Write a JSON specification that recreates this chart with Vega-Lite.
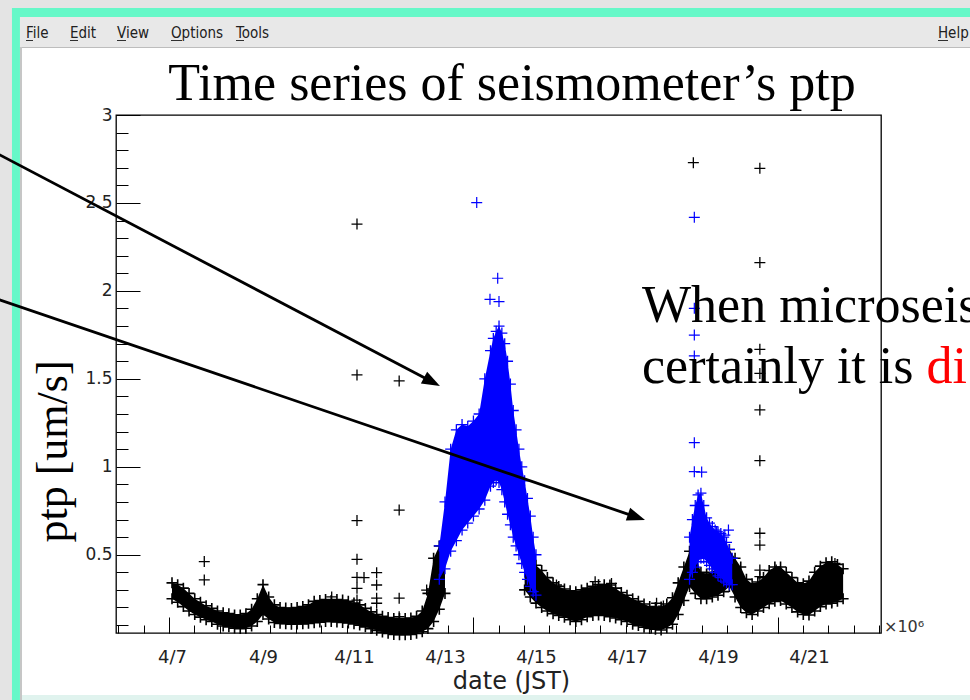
{
  "$schema": "https://vega.github.io/schema/vega-lite/v6.json",
  "width": 765,
  "height": 518,
  "autosize": {"type": "none"},
  "padding": {"left": 116, "top": 115, "right": 89, "bottom": 67},
  "background": "#ffffff",
  "config": {
    "view": {"stroke": "#000000", "strokeWidth": 1.3},
    "axis": {"grid": false, "domain": false, "tickColor": "#000000", "tickWidth": 1, "labelFont": "DejaVu Sans", "labelColor": "#222222", "labelFlush": false, "labelOverlap": false}
  },
  "datasets": {
    "chrome": [
      {"part": "gray", "x1": "2014-04-03T00:00", "x2": "2014-04-25T00:00", "y1": 3.6083, "y2": 3.75},
      {"part": "gray", "x1": "2014-04-03T00:00", "x2": "2014-04-03T11:36", "y1": -0.4, "y2": 3.75},
      {"part": "green", "x1": "2014-04-03T11:36", "x2": "2014-04-25T00:00", "y1": 3.5571, "y2": 3.6083},
      {"part": "green", "x1": "2014-04-03T11:36", "x2": "2014-04-03T15:49", "y1": -0.4, "y2": 3.6083},
      {"part": "menu", "x1": "2014-04-03T15:49", "x2": "2014-04-25T00:00", "y1": 3.3866, "y2": 3.5571},
      {"part": "line", "x1": "2014-04-03T15:49", "x2": "2014-04-25T00:00", "y1": 3.3809, "y2": 3.3866},
      {"part": "edge", "x1": "2014-04-03T15:49", "x2": "2014-04-03T16:53", "y1": -0.4, "y2": 3.3866},
      {"part": "mint", "x1": "2014-04-03T16:53", "x2": "2014-04-25T00:00", "y1": -0.4, "y2": -0.2973},
      {"part": "ul", "x1": "2014-04-03T18:59", "x2": "2014-04-03T22:41", "y1": 3.4207, "y2": 3.4264},
      {"part": "ul", "x1": "2014-04-04T18:12", "x2": "2014-04-04T22:25", "y1": 3.4207, "y2": 3.4264},
      {"part": "ul", "x1": "2014-04-05T18:59", "x2": "2014-04-05T23:44", "y1": 3.4207, "y2": 3.4264},
      {"part": "ul", "x1": "2014-04-06T23:28", "x2": "2014-04-07T05:16", "y1": 3.4207, "y2": 3.4264},
      {"part": "ul", "x1": "2014-04-08T09:46", "x2": "2014-04-08T13:59", "y1": 3.4207, "y2": 3.4264},
      {"part": "ul", "x1": "2014-04-23T20:02", "x2": "2014-04-24T01:19", "y1": 3.4207, "y2": 3.4264}
    ],
    "menu": [
      {"label": "File", "t": "2014-04-03T18:59", "v": 3.4662},
      {"label": "Edit", "t": "2014-04-04T18:12", "v": 3.4662},
      {"label": "View", "t": "2014-04-05T18:59", "v": 3.4662},
      {"label": "Options", "t": "2014-04-06T23:28", "v": 3.4662},
      {"label": "Tools", "t": "2014-04-08T09:46", "v": 3.4662},
      {"label": "Help", "t": "2014-04-23T20:02", "v": 3.4662}
    ],
    "bands": [
      {"t": "2014-04-07T00:00", "lo": 0.25, "hi": 0.34, "cls": "other", "seg": "a"},
      {"t": "2014-04-07T03:00", "lo": 0.23, "hi": 0.33, "cls": "other", "seg": "a"},
      {"t": "2014-04-07T06:00", "lo": 0.205, "hi": 0.31, "cls": "other", "seg": "a"},
      {"t": "2014-04-07T09:00", "lo": 0.18, "hi": 0.28, "cls": "other", "seg": "a"},
      {"t": "2014-04-07T12:00", "lo": 0.16, "hi": 0.25, "cls": "other", "seg": "a"},
      {"t": "2014-04-07T15:00", "lo": 0.145, "hi": 0.23, "cls": "other", "seg": "a"},
      {"t": "2014-04-07T18:00", "lo": 0.13, "hi": 0.21, "cls": "other", "seg": "a"},
      {"t": "2014-04-07T21:00", "lo": 0.12, "hi": 0.195, "cls": "other", "seg": "a"},
      {"t": "2014-04-08T00:00", "lo": 0.105, "hi": 0.18, "cls": "other", "seg": "a"},
      {"t": "2014-04-08T03:00", "lo": 0.095, "hi": 0.17, "cls": "other", "seg": "a"},
      {"t": "2014-04-08T06:00", "lo": 0.09, "hi": 0.165, "cls": "other", "seg": "a"},
      {"t": "2014-04-08T09:00", "lo": 0.083, "hi": 0.158, "cls": "other", "seg": "a"},
      {"t": "2014-04-08T12:00", "lo": 0.08, "hi": 0.157, "cls": "other", "seg": "a"},
      {"t": "2014-04-08T15:00", "lo": 0.082, "hi": 0.165, "cls": "other", "seg": "a"},
      {"t": "2014-04-08T18:00", "lo": 0.095, "hi": 0.19, "cls": "other", "seg": "a"},
      {"t": "2014-04-08T21:00", "lo": 0.12, "hi": 0.25, "cls": "other", "seg": "a"},
      {"t": "2014-04-09T00:00", "lo": 0.16, "hi": 0.33, "cls": "other", "seg": "a"},
      {"t": "2014-04-09T03:00", "lo": 0.135, "hi": 0.26, "cls": "other", "seg": "a"},
      {"t": "2014-04-09T06:00", "lo": 0.115, "hi": 0.215, "cls": "other", "seg": "a"},
      {"t": "2014-04-09T09:00", "lo": 0.11, "hi": 0.2, "cls": "other", "seg": "a"},
      {"t": "2014-04-09T12:00", "lo": 0.108, "hi": 0.197, "cls": "other", "seg": "a"},
      {"t": "2014-04-09T15:00", "lo": 0.105, "hi": 0.195, "cls": "other", "seg": "a"},
      {"t": "2014-04-09T18:00", "lo": 0.106, "hi": 0.2, "cls": "other", "seg": "a"},
      {"t": "2014-04-09T21:00", "lo": 0.107, "hi": 0.205, "cls": "other", "seg": "a"},
      {"t": "2014-04-10T00:00", "lo": 0.11, "hi": 0.215, "cls": "other", "seg": "a"},
      {"t": "2014-04-10T03:00", "lo": 0.113, "hi": 0.235, "cls": "other", "seg": "a"},
      {"t": "2014-04-10T06:00", "lo": 0.117, "hi": 0.24, "cls": "other", "seg": "a"},
      {"t": "2014-04-10T09:00", "lo": 0.12, "hi": 0.245, "cls": "other", "seg": "a"},
      {"t": "2014-04-10T12:00", "lo": 0.12, "hi": 0.24, "cls": "other", "seg": "a"},
      {"t": "2014-04-10T15:00", "lo": 0.118, "hi": 0.245, "cls": "other", "seg": "a"},
      {"t": "2014-04-10T18:00", "lo": 0.115, "hi": 0.242, "cls": "other", "seg": "a"},
      {"t": "2014-04-10T21:00", "lo": 0.112, "hi": 0.235, "cls": "other", "seg": "a"},
      {"t": "2014-04-11T00:00", "lo": 0.107, "hi": 0.225, "cls": "other", "seg": "a"},
      {"t": "2014-04-11T03:00", "lo": 0.1, "hi": 0.215, "cls": "other", "seg": "a"},
      {"t": "2014-04-11T06:00", "lo": 0.09, "hi": 0.195, "cls": "other", "seg": "a"},
      {"t": "2014-04-11T09:00", "lo": 0.08, "hi": 0.175, "cls": "other", "seg": "a"},
      {"t": "2014-04-11T12:00", "lo": 0.07, "hi": 0.16, "cls": "other", "seg": "a"},
      {"t": "2014-04-11T15:00", "lo": 0.06, "hi": 0.15, "cls": "other", "seg": "a"},
      {"t": "2014-04-11T18:00", "lo": 0.053, "hi": 0.143, "cls": "other", "seg": "a"},
      {"t": "2014-04-11T21:00", "lo": 0.047, "hi": 0.138, "cls": "other", "seg": "a"},
      {"t": "2014-04-12T00:00", "lo": 0.045, "hi": 0.137, "cls": "other", "seg": "a"},
      {"t": "2014-04-12T03:00", "lo": 0.045, "hi": 0.137, "cls": "other", "seg": "a"},
      {"t": "2014-04-12T06:00", "lo": 0.047, "hi": 0.14, "cls": "other", "seg": "a"},
      {"t": "2014-04-12T09:00", "lo": 0.053, "hi": 0.15, "cls": "other", "seg": "a"},
      {"t": "2014-04-12T12:00", "lo": 0.062, "hi": 0.18, "cls": "other", "seg": "a"},
      {"t": "2014-04-12T15:00", "lo": 0.08, "hi": 0.28, "cls": "other", "seg": "a"},
      {"t": "2014-04-12T18:00", "lo": 0.12, "hi": 0.48, "cls": "other", "seg": "a"},
      {"t": "2014-04-12T21:00", "lo": 0.19, "hi": 0.55, "cls": "other", "seg": "a"},
      {"t": "2014-04-13T00:00", "lo": 0.28, "hi": 0.55, "cls": "other", "seg": "a"},
      {"t": "2014-04-14T18:00", "lo": 0.3, "hi": 0.52, "cls": "other", "seg": "b"},
      {"t": "2014-04-14T21:00", "lo": 0.26, "hi": 0.48, "cls": "other", "seg": "b"},
      {"t": "2014-04-15T00:00", "lo": 0.225, "hi": 0.44, "cls": "other", "seg": "b"},
      {"t": "2014-04-15T03:00", "lo": 0.2, "hi": 0.41, "cls": "other", "seg": "b"},
      {"t": "2014-04-15T06:00", "lo": 0.18, "hi": 0.37, "cls": "other", "seg": "b"},
      {"t": "2014-04-15T09:00", "lo": 0.165, "hi": 0.34, "cls": "other", "seg": "b"},
      {"t": "2014-04-15T12:00", "lo": 0.155, "hi": 0.32, "cls": "other", "seg": "b"},
      {"t": "2014-04-15T15:00", "lo": 0.145, "hi": 0.305, "cls": "other", "seg": "b"},
      {"t": "2014-04-15T18:00", "lo": 0.13, "hi": 0.295, "cls": "other", "seg": "b"},
      {"t": "2014-04-15T21:00", "lo": 0.12, "hi": 0.29, "cls": "other", "seg": "b"},
      {"t": "2014-04-16T00:00", "lo": 0.13, "hi": 0.3, "cls": "other", "seg": "b"},
      {"t": "2014-04-16T03:00", "lo": 0.148, "hi": 0.31, "cls": "other", "seg": "b"},
      {"t": "2014-04-16T06:00", "lo": 0.155, "hi": 0.32, "cls": "other", "seg": "b"},
      {"t": "2014-04-16T09:00", "lo": 0.157, "hi": 0.33, "cls": "other", "seg": "b"},
      {"t": "2014-04-16T12:00", "lo": 0.155, "hi": 0.33, "cls": "other", "seg": "b"},
      {"t": "2014-04-16T15:00", "lo": 0.148, "hi": 0.328, "cls": "other", "seg": "b"},
      {"t": "2014-04-16T18:00", "lo": 0.14, "hi": 0.31, "cls": "other", "seg": "b"},
      {"t": "2014-04-16T21:00", "lo": 0.13, "hi": 0.285, "cls": "other", "seg": "b"},
      {"t": "2014-04-17T00:00", "lo": 0.12, "hi": 0.27, "cls": "other", "seg": "b"},
      {"t": "2014-04-17T03:00", "lo": 0.105, "hi": 0.25, "cls": "other", "seg": "b"},
      {"t": "2014-04-17T06:00", "lo": 0.097, "hi": 0.235, "cls": "other", "seg": "b"},
      {"t": "2014-04-17T09:00", "lo": 0.088, "hi": 0.22, "cls": "other", "seg": "b"},
      {"t": "2014-04-17T12:00", "lo": 0.081, "hi": 0.205, "cls": "other", "seg": "b"},
      {"t": "2014-04-17T15:00", "lo": 0.076, "hi": 0.2, "cls": "other", "seg": "b"},
      {"t": "2014-04-17T18:00", "lo": 0.072, "hi": 0.203, "cls": "other", "seg": "b"},
      {"t": "2014-04-17T21:00", "lo": 0.085, "hi": 0.22, "cls": "other", "seg": "b"},
      {"t": "2014-04-18T00:00", "lo": 0.105, "hi": 0.255, "cls": "other", "seg": "b"},
      {"t": "2014-04-18T03:00", "lo": 0.16, "hi": 0.34, "cls": "other", "seg": "b"},
      {"t": "2014-04-18T06:00", "lo": 0.24, "hi": 0.43, "cls": "other", "seg": "b"},
      {"t": "2014-04-18T09:00", "lo": 0.32, "hi": 0.52, "cls": "other", "seg": "b"},
      {"t": "2014-04-18T12:00", "lo": 0.28, "hi": 0.5, "cls": "other", "seg": "b"},
      {"t": "2014-04-18T15:00", "lo": 0.25, "hi": 0.4, "cls": "other", "seg": "b"},
      {"t": "2014-04-18T18:00", "lo": 0.25, "hi": 0.39, "cls": "other", "seg": "b"},
      {"t": "2014-04-18T21:00", "lo": 0.26, "hi": 0.4, "cls": "other", "seg": "b"},
      {"t": "2014-04-19T00:00", "lo": 0.27, "hi": 0.44, "cls": "other", "seg": "b"},
      {"t": "2014-04-19T03:00", "lo": 0.29, "hi": 0.5, "cls": "other", "seg": "b"},
      {"t": "2014-04-19T06:00", "lo": 0.32, "hi": 0.53, "cls": "other", "seg": "b"},
      {"t": "2014-04-19T09:00", "lo": 0.26, "hi": 0.48, "cls": "other", "seg": "b"},
      {"t": "2014-04-19T12:00", "lo": 0.2, "hi": 0.43, "cls": "other", "seg": "b"},
      {"t": "2014-04-19T15:00", "lo": 0.17, "hi": 0.36, "cls": "other", "seg": "b"},
      {"t": "2014-04-19T18:00", "lo": 0.16, "hi": 0.335, "cls": "other", "seg": "b"},
      {"t": "2014-04-19T21:00", "lo": 0.18, "hi": 0.345, "cls": "other", "seg": "b"},
      {"t": "2014-04-20T00:00", "lo": 0.2, "hi": 0.37, "cls": "other", "seg": "b"},
      {"t": "2014-04-20T03:00", "lo": 0.222, "hi": 0.41, "cls": "other", "seg": "b"},
      {"t": "2014-04-20T06:00", "lo": 0.235, "hi": 0.43, "cls": "other", "seg": "b"},
      {"t": "2014-04-20T09:00", "lo": 0.24, "hi": 0.43, "cls": "other", "seg": "b"},
      {"t": "2014-04-20T12:00", "lo": 0.22, "hi": 0.4, "cls": "other", "seg": "b"},
      {"t": "2014-04-20T15:00", "lo": 0.2, "hi": 0.37, "cls": "other", "seg": "b"},
      {"t": "2014-04-20T18:00", "lo": 0.175, "hi": 0.34, "cls": "other", "seg": "b"},
      {"t": "2014-04-20T21:00", "lo": 0.16, "hi": 0.335, "cls": "other", "seg": "b"},
      {"t": "2014-04-21T00:00", "lo": 0.157, "hi": 0.35, "cls": "other", "seg": "b"},
      {"t": "2014-04-21T03:00", "lo": 0.18, "hi": 0.4, "cls": "other", "seg": "b"},
      {"t": "2014-04-21T06:00", "lo": 0.205, "hi": 0.435, "cls": "other", "seg": "b"},
      {"t": "2014-04-21T09:00", "lo": 0.22, "hi": 0.455, "cls": "other", "seg": "b"},
      {"t": "2014-04-21T12:00", "lo": 0.225, "hi": 0.46, "cls": "other", "seg": "b"},
      {"t": "2014-04-21T15:00", "lo": 0.235, "hi": 0.445, "cls": "other", "seg": "b"},
      {"t": "2014-04-21T18:00", "lo": 0.25, "hi": 0.42, "cls": "other", "seg": "b"},
      {"t": "2014-04-12T21:00", "lo": 0.36, "hi": 0.55, "cls": "micro", "seg": "p1"},
      {"t": "2014-04-13T00:00", "lo": 0.42, "hi": 0.8, "cls": "micro", "seg": "p1"},
      {"t": "2014-04-13T03:00", "lo": 0.52, "hi": 1.1, "cls": "micro", "seg": "p1"},
      {"t": "2014-04-13T06:00", "lo": 0.58, "hi": 1.21, "cls": "micro", "seg": "p1"},
      {"t": "2014-04-13T09:00", "lo": 0.64, "hi": 1.24, "cls": "micro", "seg": "p1"},
      {"t": "2014-04-13T12:00", "lo": 0.68, "hi": 1.23, "cls": "micro", "seg": "p1"},
      {"t": "2014-04-13T15:00", "lo": 0.72, "hi": 1.26, "cls": "micro", "seg": "p1"},
      {"t": "2014-04-13T18:00", "lo": 0.76, "hi": 1.3, "cls": "micro", "seg": "p1"},
      {"t": "2014-04-13T21:00", "lo": 0.81, "hi": 1.5, "cls": "micro", "seg": "p1"},
      {"t": "2014-04-14T00:00", "lo": 0.89, "hi": 1.66, "cls": "micro", "seg": "p1"},
      {"t": "2014-04-14T01:30", "lo": 0.91, "hi": 1.73, "cls": "micro", "seg": "p1"},
      {"t": "2014-04-14T03:00", "lo": 0.925, "hi": 1.77, "cls": "micro", "seg": "p1"},
      {"t": "2014-04-14T04:30", "lo": 0.91, "hi": 1.8, "cls": "micro", "seg": "p1"},
      {"t": "2014-04-14T06:00", "lo": 0.87, "hi": 1.76, "cls": "micro", "seg": "p1"},
      {"t": "2014-04-14T07:30", "lo": 0.8, "hi": 1.7, "cls": "micro", "seg": "p1"},
      {"t": "2014-04-14T09:00", "lo": 0.73, "hi": 1.6, "cls": "micro", "seg": "p1"},
      {"t": "2014-04-14T10:30", "lo": 0.67, "hi": 1.47, "cls": "micro", "seg": "p1"},
      {"t": "2014-04-14T12:00", "lo": 0.6, "hi": 1.32, "cls": "micro", "seg": "p1"},
      {"t": "2014-04-14T13:30", "lo": 0.55, "hi": 1.21, "cls": "micro", "seg": "p1"},
      {"t": "2014-04-14T15:00", "lo": 0.5, "hi": 1.1, "cls": "micro", "seg": "p1"},
      {"t": "2014-04-14T16:30", "lo": 0.45, "hi": 1.0, "cls": "micro", "seg": "p1"},
      {"t": "2014-04-14T18:00", "lo": 0.4, "hi": 0.92, "cls": "micro", "seg": "p1"},
      {"t": "2014-04-14T19:30", "lo": 0.36, "hi": 0.82, "cls": "micro", "seg": "p1"},
      {"t": "2014-04-14T21:00", "lo": 0.32, "hi": 0.72, "cls": "micro", "seg": "p1"},
      {"t": "2014-04-14T22:30", "lo": 0.29, "hi": 0.6, "cls": "micro", "seg": "p1"},
      {"t": "2014-04-15T00:00", "lo": 0.27, "hi": 0.5, "cls": "micro", "seg": "p1"},
      {"t": "2014-04-18T09:00", "lo": 0.36, "hi": 0.6, "cls": "micro", "seg": "p2"},
      {"t": "2014-04-18T10:30", "lo": 0.4, "hi": 0.7, "cls": "micro", "seg": "p2"},
      {"t": "2014-04-18T12:00", "lo": 0.43, "hi": 0.78, "cls": "micro", "seg": "p2"},
      {"t": "2014-04-18T13:30", "lo": 0.46, "hi": 0.84, "cls": "micro", "seg": "p2"},
      {"t": "2014-04-18T15:00", "lo": 0.48, "hi": 0.85, "cls": "micro", "seg": "p2"},
      {"t": "2014-04-18T16:30", "lo": 0.48, "hi": 0.78, "cls": "micro", "seg": "p2"},
      {"t": "2014-04-18T18:00", "lo": 0.46, "hi": 0.71, "cls": "micro", "seg": "p2"},
      {"t": "2014-04-18T19:30", "lo": 0.44, "hi": 0.68, "cls": "micro", "seg": "p2"},
      {"t": "2014-04-18T21:00", "lo": 0.42, "hi": 0.66, "cls": "micro", "seg": "p2"},
      {"t": "2014-04-18T22:30", "lo": 0.4, "hi": 0.64, "cls": "micro", "seg": "p2"},
      {"t": "2014-04-19T00:00", "lo": 0.38, "hi": 0.63, "cls": "micro", "seg": "p2"},
      {"t": "2014-04-19T01:30", "lo": 0.37, "hi": 0.62, "cls": "micro", "seg": "p2"},
      {"t": "2014-04-19T03:00", "lo": 0.35, "hi": 0.6, "cls": "micro", "seg": "p2"},
      {"t": "2014-04-19T04:30", "lo": 0.34, "hi": 0.57, "cls": "micro", "seg": "p2"},
      {"t": "2014-04-19T06:00", "lo": 0.33, "hi": 0.53, "cls": "micro", "seg": "p2"},
      {"t": "2014-04-19T07:30", "lo": 0.33, "hi": 0.48, "cls": "micro", "seg": "p2"}
    ],
    "outliers": [
      {"t": "2014-04-07T17:02", "v": 0.461, "cls": "other"},
      {"t": "2014-04-07T17:02", "v": 0.357, "cls": "other"},
      {"t": "2014-04-10T12:14", "v": 0.26, "cls": "other"},
      {"t": "2014-04-11T01:35", "v": 2.38, "cls": "other"},
      {"t": "2014-04-11T01:35", "v": 1.522, "cls": "other"},
      {"t": "2014-04-11T01:35", "v": 0.694, "cls": "other"},
      {"t": "2014-04-11T01:35", "v": 0.474, "cls": "other"},
      {"t": "2014-04-11T01:35", "v": 0.371, "cls": "other"},
      {"t": "2014-04-11T01:35", "v": 0.309, "cls": "other"},
      {"t": "2014-04-11T01:35", "v": 0.242, "cls": "other"},
      {"t": "2014-04-11T05:17", "v": 0.37, "cls": "other"},
      {"t": "2014-04-11T11:57", "v": 0.398, "cls": "other"},
      {"t": "2014-04-11T11:57", "v": 0.328, "cls": "other"},
      {"t": "2014-04-11T11:57", "v": 0.253, "cls": "other"},
      {"t": "2014-04-11T11:57", "v": 0.224, "cls": "other"},
      {"t": "2014-04-11T23:50", "v": 1.488, "cls": "other"},
      {"t": "2014-04-11T23:50", "v": 0.754, "cls": "other"},
      {"t": "2014-04-11T23:50", "v": 0.253, "cls": "other"},
      {"t": "2014-04-11T23:50", "v": 0.148, "cls": "other"},
      {"t": "2014-04-12T14:20", "v": 0.299, "cls": "other"},
      {"t": "2014-04-15T10:48", "v": 0.328, "cls": "other"},
      {"t": "2014-04-16T07:12", "v": 0.347, "cls": "other"},
      {"t": "2014-04-16T15:50", "v": 0.337, "cls": "other"},
      {"t": "2014-04-17T15:36", "v": 0.224, "cls": "other"},
      {"t": "2014-04-17T19:12", "v": 0.208, "cls": "other"},
      {"t": "2014-04-18T11:00", "v": 2.729, "cls": "other"},
      {"t": "2014-04-19T22:05", "v": 2.697, "cls": "other"},
      {"t": "2014-04-19T22:05", "v": 2.161, "cls": "other"},
      {"t": "2014-04-19T22:05", "v": 1.668, "cls": "other"},
      {"t": "2014-04-19T22:05", "v": 1.531, "cls": "other"},
      {"t": "2014-04-19T22:05", "v": 1.323, "cls": "other"},
      {"t": "2014-04-19T22:05", "v": 1.035, "cls": "other"},
      {"t": "2014-04-19T22:05", "v": 0.622, "cls": "other"},
      {"t": "2014-04-19T22:05", "v": 0.555, "cls": "other"},
      {"t": "2014-04-19T22:05", "v": 0.413, "cls": "other"},
      {"t": "2014-04-19T22:05", "v": 0.375, "cls": "other"},
      {"t": "2014-04-20T06:43", "v": 0.413, "cls": "other"},
      {"t": "2014-04-21T12:00", "v": 0.233, "cls": "other"},
      {"t": "2014-04-21T13:41", "v": 0.45, "cls": "other"},
      {"t": "2014-04-13T16:44", "v": 2.502, "cls": "micro"},
      {"t": "2014-04-14T03:48", "v": 2.072, "cls": "micro"},
      {"t": "2014-04-13T23:44", "v": 1.952, "cls": "micro"},
      {"t": "2014-04-14T04:29", "v": 1.939, "cls": "micro"},
      {"t": "2014-04-18T11:31", "v": 2.418, "cls": "micro"},
      {"t": "2014-04-18T11:31", "v": 1.901, "cls": "micro"},
      {"t": "2014-04-18T11:31", "v": 1.749, "cls": "micro"},
      {"t": "2014-04-18T11:31", "v": 1.63, "cls": "micro"},
      {"t": "2014-04-18T11:31", "v": 1.137, "cls": "micro"},
      {"t": "2014-04-18T11:31", "v": 0.972, "cls": "micro"},
      {"t": "2014-04-18T15:23", "v": 0.97, "cls": "micro"},
      {"t": "2014-04-18T23:17", "v": 0.63, "cls": "micro"},
      {"t": "2014-04-19T03:36", "v": 0.612, "cls": "micro"},
      {"t": "2014-04-19T05:31", "v": 0.64, "cls": "micro"}
    ],
    "heading": [
      {"label": "Time series of seismometer’s ptp", "t": "2014-04-14T11:20", "v": 3.0853}
    ],
    "notes": [
      {"label": "When microseis", "t": "2014-04-17T07:55", "v": 1.8232, "tone": "plain"},
      {"label": "certainly it is", "t": "2014-04-17T07:55", "v": 1.4764, "tone": "plain"},
      {"label": "di", "t": "2014-04-23T14:00", "v": 1.4764, "tone": "highlight"}
    ],
    "exponent": [
      {"label": "×10⁶", "t": "2014-04-22T15:33", "v": 0.061}
    ],
    "arrows": [
      {"id": "a1", "t1": "2014-04-03T00:00", "v1": 2.8026, "t2": "2014-04-12T17:08", "v2": 1.483},
      {"id": "a2", "t1": "2014-04-03T00:00", "v1": 1.9676, "t2": "2014-04-17T05:01", "v2": 0.714}
    ],
    "heads": [
      {"id": "a1", "t": "2014-04-12T17:08", "v": 1.483},
      {"id": "a2", "t": "2014-04-17T05:01", "v": 0.714}
    ]
  },
  "resolve": {"axis": {"x": "independent", "y": "independent"}, "scale": {"color": "independent"}},
  "layer": [
    {
      "data": {"name": "chrome", "format": {"parse": {"x1": "date", "x2": "date"}}},
      "mark": {"type": "rect"},
      "encoding": {
        "x": {"field": "x1", "type": "temporal", "scale": {"domain": [{"year": 2014, "month": 4, "date": 5, "hours": 18, "minutes": 28}, {"year": 2014, "month": 4, "date": 22, "hours": 13, "minutes": 59}], "nice": false}, "axis": null},
        "x2": {"field": "x2"},
        "y": {"field": "y1", "type": "quantitative", "scale": {"domain": [0.055, 3.0], "nice": false, "zero": false}, "axis": null},
        "y2": {"field": "y2"},
        "color": {"field": "part", "type": "nominal", "scale": {"domain": ["gray", "green", "menu", "line", "edge", "mint", "ul"], "range": ["#e4e4e4", "#66f8c8", "#e8e8e8", "#bdbdbd", "#c6c6c6", "#e0f3ee", "#303030"]}, "legend": null}
      }
    },
    {
      "data": {"name": "menu", "format": {"parse": {"t": "date"}}},
      "mark": {"type": "text", "font": "DejaVu Sans Condensed, Liberation Sans Narrow, DejaVu Sans", "fontSize": 15, "align": "left", "baseline": "middle", "color": "#202020"},
      "encoding": {
        "x": {"field": "t", "type": "temporal", "scale": {"domain": [{"year": 2014, "month": 4, "date": 5, "hours": 18, "minutes": 28}, {"year": 2014, "month": 4, "date": 22, "hours": 13, "minutes": 59}], "nice": false}, "axis": null},
        "y": {"field": "v", "type": "quantitative", "scale": {"domain": [0.055, 3.0], "nice": false, "zero": false}, "axis": null},
        "text": {"field": "label"}
      }
    },
    {
      "data": {"name": "bands", "format": {"parse": {"t": "date"}}},
      "transform": [{"filter": "datum.cls === 'other'"}],
      "mark": {"type": "area", "opacity": 1, "interpolate": "linear"},
      "encoding": {
        "x": {"field": "t", "type": "temporal", "scale": {"domain": [{"year": 2014, "month": 4, "date": 5, "hours": 18, "minutes": 28}, {"year": 2014, "month": 4, "date": 22, "hours": 13, "minutes": 59}], "nice": false},
          "axis": {"orient": "bottom", "values": {"expr": "sequence(datetime(2014,3,7), datetime(2014,3,22), 172800000)"}, "format": "%-m/%-d", "formatType": "time", "ticks": false, "tickSize": 0, "labelPadding": 29, "labelBaseline": "alphabetic", "labelFontSize": 18, "labelFont": "DejaVu Sans", "labelColor": "#222222", "title": "date (JST)", "titleFont": "DejaVu Sans", "titleFontSize": 24, "titleFontWeight": "normal", "titleColor": "#222222", "titleX": 395, "titleY": 55, "titleAlign": "center", "titleBaseline": "alphabetic"}},
        "y": {"field": "lo", "type": "quantitative", "scale": {"domain": [0.055, 3.0], "nice": false, "zero": false},
          "axis": {"orient": "left", "values": [0.5, 1, 1.5, 2, 2.5, 3], "format": "~g", "tickSize": -24, "labelPadding": 28, "labelFontSize": 17, "labelFont": "DejaVu Sans", "labelColor": "#222222", "title": "ptp [um/s]", "titleFont": "Liberation Serif", "titleFontSize": 44, "titleFontWeight": "normal", "titleColor": "#000000", "titleAngle": 270, "titleX": -50, "titleY": 336, "titleAlign": "center", "titleBaseline": "alphabetic"}},
        "y2": {"field": "hi"},
        "detail": {"field": "seg"},
        "color": {"field": "cls", "type": "nominal", "scale": {"domain": ["other", "micro"], "range": ["#000000", "#0000ff"]}, "legend": null}
      }
    },
    {
      "data": {"name": "bands", "format": {"parse": {"t": "date"}}},
      "transform": [{"filter": "datum.cls === 'other'"}, {"fold": ["lo", "hi"], "as": ["edge", "val"]}],
      "mark": {"type": "point", "shape": "M-1,0H1M0,-1V1", "filled": false, "size": 121, "strokeWidth": 1.6, "opacity": 1},
      "encoding": {
        "x": {"field": "t", "type": "temporal", "scale": {"domain": [{"year": 2014, "month": 4, "date": 5, "hours": 18, "minutes": 28}, {"year": 2014, "month": 4, "date": 22, "hours": 13, "minutes": 59}], "nice": false}, "axis": null},
        "y": {"field": "val", "type": "quantitative", "scale": {"domain": [0.055, 3.0], "nice": false, "zero": false}, "axis": null},
        "color": {"field": "cls", "type": "nominal", "scale": {"domain": ["other", "micro"], "range": ["#000000", "#0000ff"]}, "legend": null}
      }
    },
    {
      "data": {"name": "outliers", "format": {"parse": {"t": "date"}}},
      "transform": [{"filter": "datum.cls === 'other'"}],
      "mark": {"type": "point", "shape": "M-1,0H1M0,-1V1", "filled": false, "size": 121, "strokeWidth": 1.3, "opacity": 1},
      "encoding": {
        "x": {"field": "t", "type": "temporal", "scale": {"domain": [{"year": 2014, "month": 4, "date": 5, "hours": 18, "minutes": 28}, {"year": 2014, "month": 4, "date": 22, "hours": 13, "minutes": 59}], "nice": false}, "axis": null},
        "y": {"field": "v", "type": "quantitative", "scale": {"domain": [0.055, 3.0], "nice": false, "zero": false}, "axis": null},
        "color": {"field": "cls", "type": "nominal", "scale": {"domain": ["other", "micro"], "range": ["#000000", "#0000ff"]}, "legend": null}
      }
    },
    {
      "data": {"name": "bands", "format": {"parse": {"t": "date"}}},
      "transform": [{"filter": "datum.cls === 'micro'"}],
      "mark": {"type": "area", "opacity": 1, "interpolate": "linear"},
      "encoding": {
        "x": {"field": "t", "type": "temporal", "scale": {"domain": [{"year": 2014, "month": 4, "date": 5, "hours": 18, "minutes": 28}, {"year": 2014, "month": 4, "date": 22, "hours": 13, "minutes": 59}], "nice": false},
          "axis": {"orient": "bottom", "values": {"expr": "sequence(datetime(2014,3,5,19,39), datetime(2014,3,22,14,0), 48168000)"}, "labels": false, "tickSize": -8, "title": null}},
        "y": {"field": "lo", "type": "quantitative", "scale": {"domain": [0.055, 3.0], "nice": false, "zero": false},
          "axis": {"orient": "left", "values": [0.1, 0.2, 0.3, 0.4, 0.6, 0.7, 0.8, 0.9, 1.1, 1.2, 1.3, 1.4, 1.6, 1.7, 1.8, 1.9, 2.1, 2.2, 2.3, 2.4, 2.6, 2.7, 2.8, 2.9], "labels": false, "tickSize": -12, "title": null}},
        "y2": {"field": "hi"},
        "detail": {"field": "seg"},
        "color": {"field": "cls", "type": "nominal", "scale": {"domain": ["other", "micro"], "range": ["#000000", "#0000ff"]}, "legend": null}
      }
    },
    {
      "data": {"name": "bands", "format": {"parse": {"t": "date"}}},
      "transform": [{"filter": "datum.cls === 'micro'"}, {"fold": ["lo", "hi"], "as": ["edge", "val"]}],
      "mark": {"type": "point", "shape": "M-1,0H1M0,-1V1", "filled": false, "size": 121, "strokeWidth": 1.3, "opacity": 1},
      "encoding": {
        "x": {"field": "t", "type": "temporal", "scale": {"domain": [{"year": 2014, "month": 4, "date": 5, "hours": 18, "minutes": 28}, {"year": 2014, "month": 4, "date": 22, "hours": 13, "minutes": 59}], "nice": false},
          "axis": {"orient": "bottom", "values": {"expr": "sequence(datetime(2014,3,6,22,25), datetime(2014,3,22,14,0), 578016000)"}, "labels": false, "tickSize": -16, "title": null}},
        "y": {"field": "val", "type": "quantitative", "scale": {"domain": [0.055, 3.0], "nice": false, "zero": false}, "axis": null},
        "color": {"field": "cls", "type": "nominal", "scale": {"domain": ["other", "micro"], "range": ["#000000", "#0000ff"]}, "legend": null}
      }
    },
    {
      "data": {"name": "outliers", "format": {"parse": {"t": "date"}}},
      "transform": [{"filter": "datum.cls === 'micro'"}],
      "mark": {"type": "point", "shape": "M-1,0H1M0,-1V1", "filled": false, "size": 121, "strokeWidth": 1.2, "opacity": 1},
      "encoding": {
        "x": {"field": "t", "type": "temporal", "scale": {"domain": [{"year": 2014, "month": 4, "date": 5, "hours": 18, "minutes": 28}, {"year": 2014, "month": 4, "date": 22, "hours": 13, "minutes": 59}], "nice": false}, "axis": null},
        "y": {"field": "v", "type": "quantitative", "scale": {"domain": [0.055, 3.0], "nice": false, "zero": false}, "axis": null},
        "color": {"field": "cls", "type": "nominal", "scale": {"domain": ["other", "micro"], "range": ["#000000", "#0000ff"]}, "legend": null}
      }
    },
    {
      "data": {"name": "heading", "format": {"parse": {"t": "date"}}},
      "mark": {"type": "text", "font": "Liberation Serif", "fontSize": 52, "align": "center", "baseline": "alphabetic", "color": "#000000"},
      "encoding": {
        "x": {"field": "t", "type": "temporal", "scale": {"domain": [{"year": 2014, "month": 4, "date": 5, "hours": 18, "minutes": 28}, {"year": 2014, "month": 4, "date": 22, "hours": 13, "minutes": 59}], "nice": false}, "axis": null},
        "y": {"field": "v", "type": "quantitative", "scale": {"domain": [0.055, 3.0], "nice": false, "zero": false}, "axis": null},
        "text": {"field": "label"}
      }
    },
    {
      "data": {"name": "notes", "format": {"parse": {"t": "date"}}},
      "mark": {"type": "text", "font": "Liberation Serif", "fontSize": 52, "align": "left", "baseline": "alphabetic"},
      "encoding": {
        "x": {"field": "t", "type": "temporal", "scale": {"domain": [{"year": 2014, "month": 4, "date": 5, "hours": 18, "minutes": 28}, {"year": 2014, "month": 4, "date": 22, "hours": 13, "minutes": 59}], "nice": false}, "axis": null},
        "y": {"field": "v", "type": "quantitative", "scale": {"domain": [0.055, 3.0], "nice": false, "zero": false}, "axis": null},
        "text": {"field": "label"},
        "color": {"field": "tone", "type": "nominal", "scale": {"domain": ["plain", "highlight"], "range": ["#000000", "#ff0000"]}, "legend": null}
      }
    },
    {
      "data": {"name": "exponent", "format": {"parse": {"t": "date"}}},
      "mark": {"type": "text", "font": "DejaVu Sans", "fontSize": 16, "align": "left", "baseline": "alphabetic", "color": "#333333"},
      "encoding": {
        "x": {"field": "t", "type": "temporal", "scale": {"domain": [{"year": 2014, "month": 4, "date": 5, "hours": 18, "minutes": 28}, {"year": 2014, "month": 4, "date": 22, "hours": 13, "minutes": 59}], "nice": false}, "axis": null},
        "y": {"field": "v", "type": "quantitative", "scale": {"domain": [0.055, 3.0], "nice": false, "zero": false}, "axis": null},
        "text": {"field": "label"}
      }
    },
    {
      "data": {"name": "arrows", "format": {"parse": {"t1": "date", "t2": "date"}}},
      "mark": {"type": "rule", "color": "#000000", "strokeWidth": 2.8},
      "encoding": {
        "x": {"field": "t1", "type": "temporal", "scale": {"domain": [{"year": 2014, "month": 4, "date": 5, "hours": 18, "minutes": 28}, {"year": 2014, "month": 4, "date": 22, "hours": 13, "minutes": 59}], "nice": false}, "axis": null},
        "x2": {"field": "t2"},
        "y": {"field": "v1", "type": "quantitative", "scale": {"domain": [0.055, 3.0], "nice": false, "zero": false}, "axis": null},
        "y2": {"field": "v2"}
      }
    },
    {
      "data": {"name": "heads", "format": {"parse": {"t": "date"}}},
      "transform": [{"filter": "datum.id === 'a1'"}],
      "mark": {"type": "point", "shape": "M1,0L-1,-0.75L-1,0.75Z", "filled": true, "size": 324, "angle": 27.7, "color": "#000000", "opacity": 1},
      "encoding": {
        "x": {"field": "t", "type": "temporal", "scale": {"domain": [{"year": 2014, "month": 4, "date": 5, "hours": 18, "minutes": 28}, {"year": 2014, "month": 4, "date": 22, "hours": 13, "minutes": 59}], "nice": false}, "axis": null},
        "y": {"field": "v", "type": "quantitative", "scale": {"domain": [0.055, 3.0], "nice": false, "zero": false}, "axis": null}
      }
    },
    {
      "data": {"name": "heads", "format": {"parse": {"t": "date"}}},
      "transform": [{"filter": "datum.id === 'a2'"}],
      "mark": {"type": "point", "shape": "M1,0L-1,-0.75L-1,0.75Z", "filled": true, "size": 324, "angle": 18.8, "color": "#000000", "opacity": 1},
      "encoding": {
        "x": {"field": "t", "type": "temporal", "scale": {"domain": [{"year": 2014, "month": 4, "date": 5, "hours": 18, "minutes": 28}, {"year": 2014, "month": 4, "date": 22, "hours": 13, "minutes": 59}], "nice": false}, "axis": null},
        "y": {"field": "v", "type": "quantitative", "scale": {"domain": [0.055, 3.0], "nice": false, "zero": false}, "axis": null}
      }
    }
  ]
}
